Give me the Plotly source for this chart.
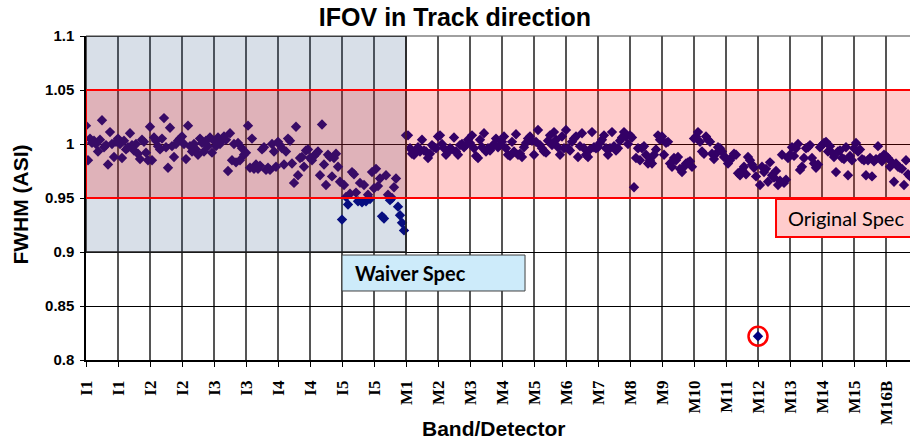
import plotly.graph_objects as go

# ---- data (FWHM, ASI) per band, 16 detectors per label interval ----
i1_a = [1.017, 0.985, 1.005, 1.001, 1.003, 1.000, 0.993, 1.004, 1.022, 0.997, 0.999, 0.981, 1.011, 1.000, 0.988, 1.002]
i1_b = [1.005, 1.000, 0.987, 1.003, 0.995, 0.997, 1.010, 0.999, 0.994, 1.000, 0.991, 0.986, 1.004, 1.002, 0.992, 0.985]
i2_a = [1.016, 0.985, 1.006, 1.003, 0.998, 0.995, 1.005, 1.024, 0.997, 0.978, 1.015, 0.998, 0.988, 1.000, 1.003, 1.005]
i2_b = [1.007, 1.000, 0.986, 1.017, 0.998, 0.993, 1.000, 0.995, 0.990, 1.005, 1.001, 0.993, 1.003, 0.998, 1.006, 0.992]
i3_a = [1.003, 0.998, 1.006, 1.000, 1.004, 1.007, 1.004, 0.975, 1.010, 0.985, 1.000, 0.983, 1.001, 0.985, 0.996, 0.990]
i3_b = [0.992, 1.017, 0.978, 1.005, 0.977, 0.981, 0.977, 0.980, 0.995, 0.997, 0.976, 0.978, 0.976, 1.000, 0.993, 0.979]
i4_a = [1.002, 0.999, 0.996, 0.981, 0.993, 1.005, 1.003, 0.982, 0.964, 1.016, 0.971, 0.987, 0.988, 0.979, 0.994, 0.995]
i4_b = [0.987, 0.985, 0.989, 0.991, 0.993, 0.971, 1.018, 0.981, 0.962, 0.990, 0.988, 0.970, 0.987, 0.991, 0.979, 0.965]
i5_a = [0.930, 0.962, 0.951, 0.944, 0.954, 0.974, 0.972, 0.955, 0.947, 0.964, 0.946, 0.962, 0.947, 0.953, 0.949, 0.974]
i5_b = [0.959, 0.977, 0.961, 0.968, 0.933, 0.931, 0.971, 0.953, 0.948, 0.950, 0.960, 0.968, 0.942, 0.934, 0.927, 0.920]
m1 = [1.008, 1.008, 0.996, 0.991, 0.990, 0.994, 0.997, 0.993, 1.004, 0.994, 0.993, 0.987, 0.991, 0.999, 0.997, 0.996]
m2 = [1.007, 1.008, 1.000, 0.996, 0.990, 0.993, 0.996, 0.995, 1.006, 0.993, 0.990, 0.999, 1.000, 0.997, 0.999, 1.004]
m3 = [1.001, 1.008, 0.996, 0.989, 0.987, 1.004, 0.997, 1.010, 0.993, 0.996, 0.994, 0.997, 1.000, 1.005, 0.997, 0.999]
m4 = [1.002, 1.007, 0.996, 0.990, 0.989, 1.002, 0.993, 1.009, 0.990, 0.991, 0.988, 0.997, 1.001, 1.005, 1.007, 1.003]
m5 = [0.990, 1.002, 1.013, 0.999, 0.996, 0.993, 0.992, 1.003, 1.008, 0.999, 1.011, 1.004, 0.997, 0.990, 1.007, 0.996]
m6 = [1.013, 0.996, 0.994, 1.002, 1.005, 1.007, 0.988, 0.998, 1.010, 0.996, 0.990, 0.988, 0.995, 1.011, 0.997, 0.996]
m7 = [0.997, 1.001, 1.004, 1.008, 0.996, 0.990, 0.996, 1.011, 0.998, 0.994, 0.996, 1.003, 1.006, 1.011, 1.007, 1.000]
m8 = [1.008, 1.006, 0.960, 0.987, 0.996, 0.985, 0.996, 0.998, 0.990, 0.982, 0.985, 0.982, 0.990, 0.995, 1.008, 1.004]
m9 = [1.007, 0.990, 1.001, 1.002, 0.982, 0.979, 0.987, 0.985, 0.988, 0.977, 0.974, 0.979, 0.982, 0.983, 0.984, 0.979]
m10 = [1.005, 1.007, 1.011, 1.002, 0.993, 0.991, 1.007, 1.004, 1.002, 0.991, 0.986, 0.991, 0.997, 0.996, 0.993, 0.988]
m11 = [0.987, 0.982, 0.985, 0.988, 0.991, 0.990, 0.973, 0.971, 0.976, 0.979, 0.972, 0.988, 0.985, 0.981, 0.978, 0.970]
m12 = [0.822, 0.962, 0.979, 0.974, 0.977, 0.965, 0.983, 0.971, 0.969, 0.975, 0.962, 0.966, 0.990, 0.964, 0.967, 0.987]
m13 = [0.990, 0.997, 0.989, 0.996, 1.000, 0.976, 0.979, 0.987, 0.996, 0.997, 0.999, 0.987, 0.982, 0.978, 0.981, 0.997]
m14 = [0.999, 1.001, 1.002, 0.993, 0.998, 0.992, 0.988, 0.974, 0.993, 0.994, 0.987, 0.986, 0.997, 0.971, 0.989, 0.985]
m15 = [0.996, 1.001, 0.993, 0.995, 0.986, 0.985, 0.971, 0.985, 0.987, 0.970, 0.984, 0.986, 0.998, 0.987, 0.984, 0.990]
m16b = [0.989, 0.987, 0.979, 0.983, 0.965, 0.982, 0.979, 0.978, 0.977, 0.962, 0.985, 0.972, 0.970]

tick_labels = ["I1", "I1", "I2", "I2", "I3", "I3", "I4", "I4", "I5", "I5",
               "M1", "M2", "M3", "M4", "M5", "M6", "M7", "M8", "M9", "M10",
               "M11", "M12", "M13", "M14", "M15", "M16B"]

waiver_lo, waiver_hi = 0.90, 1.10
orig_lo, orig_hi = 0.95, 1.05

groups = [i1_a, i1_b, i2_a, i2_b, i3_a, i3_b, i4_a, i4_b, i5_a, i5_b,
          m1, m2, m3, m4, m5, m6, m7, m8, m9, m10, m11, m12, m13, m14, m15, m16b]

values = []
tick_vals = []
for g in groups:
    tick_vals.append(len(values))
    values.extend(g)
xs = list(range(len(values)))
m1_start = tick_vals[tick_labels.index("M1")]
n_end = tick_vals[-1] + 16

out_idx = min(range(len(values)), key=lambda i: values[i])

FONT = "Liberation Sans"

fig = go.Figure()
fig.add_trace(go.Scatter(
    x=xs, y=values, mode="markers",
    marker=dict(symbol="diamond", size=8, color="#000080", line=dict(width=0)),
    showlegend=False, hoverinfo="skip"))
fig.add_trace(go.Scatter(
    x=[xs[out_idx]], y=[values[out_idx]], mode="markers",
    marker=dict(symbol="circle-open", size=19, color="#FF0000", line=dict(width=2.5, color="#FF0000")),
    showlegend=False, hoverinfo="skip"))

shapes = [
    # waiver spec region
    dict(type="rect", xref="x", yref="y", x0=0, x1=m1_start, y0=waiver_lo, y1=waiver_hi,
         fillcolor="rgba(40,80,130,0.18)", line=dict(color="#222222", width=1.5), layer="above"),
    # original spec region
    dict(type="rect", xref="x", yref="y", x0=0, x1=n_end, y0=orig_lo, y1=orig_hi,
         fillcolor="rgba(255,0,0,0.2)", line=dict(color="#FF0000", width=2), layer="above"),
    # top border
    dict(type="line", xref="paper", yref="paper", x0=0, x1=1, y0=1, y1=1,
         line=dict(color="#808080", width=1.5), layer="below"),
    # Waiver Spec box
    dict(type="rect", xref="paper", yref="paper", x0=0.3107, x1=0.5328, y0=0.213, y1=0.324,
         fillcolor="#CDEBFA", line=dict(color="#404040", width=1), layer="above"),
    # Original Spec box
    dict(type="rect", xref="paper", yref="paper", x0=0.8374, x1=1.06, y0=0.3796, y1=0.4969,
         fillcolor="#FFCCCC", line=dict(color="#FF0000", width=2), layer="above"),
]

annotations = [
    dict(text="Waiver Spec", xref="paper", yref="paper", x=0.324, y=0.2685,
         xanchor="left", yanchor="middle", showarrow=False,
         font=dict(family="Lato", size=20, weight="bold", color="black")),
    dict(text="Original Spec", xref="paper", yref="paper", x=0.8495, y=0.4383,
         xanchor="left", yanchor="middle", showarrow=False,
         font=dict(family="Lato", size=20, color="black")),
    dict(text="Band/Detector", xref="paper", yref="paper", x=0.495, y=-0.21,
         xanchor="center", yanchor="middle", showarrow=False,
         font=dict(family=FONT, size=21, weight="bold", color="black")),
    dict(text="FWHM (ASI)", xref="paper", yref="paper", x=-0.08, y=0.48,
         xanchor="center", yanchor="middle", showarrow=False, textangle=-90,
         font=dict(family=FONT, size=21, weight="bold", color="black")),
]

fig.update_layout(
    width=910, height=442,
    margin=dict(l=86, r=0, t=36, b=82),
    paper_bgcolor="white", plot_bgcolor="white",
    title=dict(text="IFOV in Track direction", x=0.5, xanchor="center",
               y=0.962, yanchor="middle", yref="container",
               font=dict(family=FONT, size=25, weight="bold", color="black")),
    shapes=shapes, annotations=annotations,
    xaxis=dict(range=[0, 412], tickmode="array", tickvals=tick_vals, ticktext=tick_labels,
               tickangle=-90, showgrid=True, gridcolor="#555555", gridwidth=1.5,
               showline=True, linecolor="black", linewidth=1.5, automargin=False,
               ticks="outside", ticklen=5, tickcolor="black", zeroline=False,
               ticklabelstandoff=7,
               tickfont=dict(family="Liberation Serif", size=17, weight="bold", color="black")),
    yaxis=dict(range=[0.8, 1.1], dtick=0.05, tick0=0.8, showgrid=True, automargin=False,
               gridcolor="black", gridwidth=1, showline=True, linecolor="black", linewidth=1.5,
               ticks="outside", ticklen=4, tickcolor="black", zeroline=False,
               ticklabelstandoff=3,
               tickfont=dict(family=FONT, size=15, weight="bold", color="black")),
)

fig.write_html("out.html", config={"displayModeBar": False},
               post_script="document.body.style.margin='0';document.body.style.overflow='hidden';")
